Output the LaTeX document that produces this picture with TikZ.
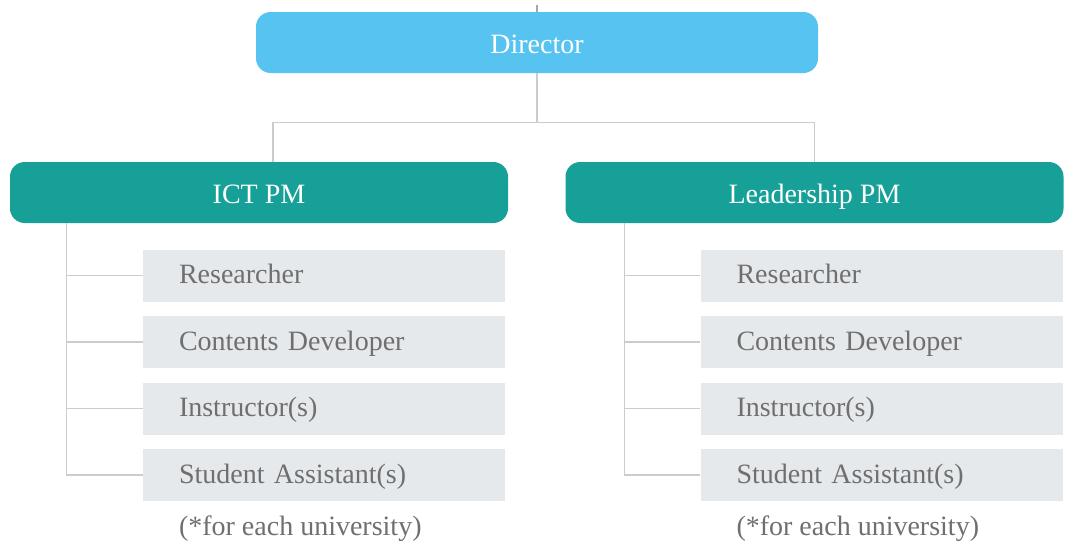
\documentclass[tikz,border=0pt]{standalone}
\usepackage{fontspec}
\setmainfont{Liberation Serif}
\usepackage{xcolor}
\usepackage{tikz}
\usetikzlibrary{positioning,calc}

\definecolor{dirblue}{HTML}{57C3F1}
\definecolor{pmteal}{HTML}{17A097}
\definecolor{stafffill}{HTML}{E5E9EC}
\definecolor{stafftext}{HTML}{6F6F6F}
\definecolor{linegray}{HTML}{CCCCCC}

\begin{document}
\begin{tikzpicture}[x=0.75pt, y=-0.75pt,
    org font/.style={font=\fontsize{21}{25}\selectfont, text height=14pt, text depth=2pt},
    top block/.style={rectangle, rounded corners=11pt, fill=dirblue, text=white,
        minimum width=421.5pt, minimum height=45.75pt, org font, text height=16pt, text depth=0pt},
    pm block/.style={rectangle, rounded corners=11pt, fill=pmteal, text=white,
        minimum width=373.5pt, minimum height=45.75pt, org font, text height=16pt, text depth=0pt},
    staff block/.style={rectangle, fill=stafffill, text=stafftext, align=left,
        text width=217.5pt, inner xsep=27pt, inner ysep=0pt, minimum height=39pt, org font},
    note/.style={text=stafftext, inner sep=0pt, org font},
    org line/.style={draw=linegray, line width=1.1pt}]

    \useasboundingbox (0,0) rectangle (1070,540);

    % top level
    \node [top block] (director) at (537,42.5) {Director};
    \node [pm block] (ict) at (259,192.5) {ICT PM};
    \node [pm block] (lead) at (814.5,192.5) {Leadership PM};

    \coordinate (stub) at ($(director.north)+(0,-7)$);
    \draw [draw=black!35, line width=1.1pt] (director.north) -- (stub);

    \coordinate (split) at ($(director.south)+(0,49)$);
    \draw [org line] (director.south) -- (split);
    \draw [org line] (split) -| ($(ict.north)+(14,0)$);
    \draw [org line] (split) -| (lead.north);

    % ICT staff
    \node [staff block, anchor=north west] (ictres) at ($(ict.south west)+(133,26)$) {Researcher};
    \node [staff block, below=10.5pt of ictres] (ictcon) {Contents Developer};
    \node [staff block, below=10.5pt of ictcon] (ictins) {Instructor(s)};
    \node [staff block, below=10.5pt of ictins] (ictstu) {Student Assistant(s)};
    \node [note, anchor=west] (ictnote) at ($(ictstu.south west)+(36,26)$) {(*for each university)};

    % Leadership staff
    \node [staff block, anchor=north west] (leadres) at ($(lead.south west)+(135,26)$) {Researcher};
    \node [staff block, below=10.5pt of leadres] (leadcon) {Contents Developer};
    \node [staff block, below=10.5pt of leadcon] (leadins) {Instructor(s)};
    \node [staff block, below=10.5pt of leadins] (leadstu) {Student Assistant(s)};
    \node [note, anchor=west] (leadnote) at ($(leadstu.south west)+(36,26)$) {(*for each university)};

    \coordinate (ictroot) at ($(ict.south west)+(57,0)$);
    \coordinate (leadroot) at ($(lead.south west)+(59,0)$);
    \foreach \n in {ictres,ictcon,ictins,ictstu}
        \draw [org line] (ictroot) |- (\n.west);
    \foreach \n in {leadres,leadcon,leadins,leadstu}
        \draw [org line] (leadroot) |- (\n.west);

\end{tikzpicture}
\end{document}
